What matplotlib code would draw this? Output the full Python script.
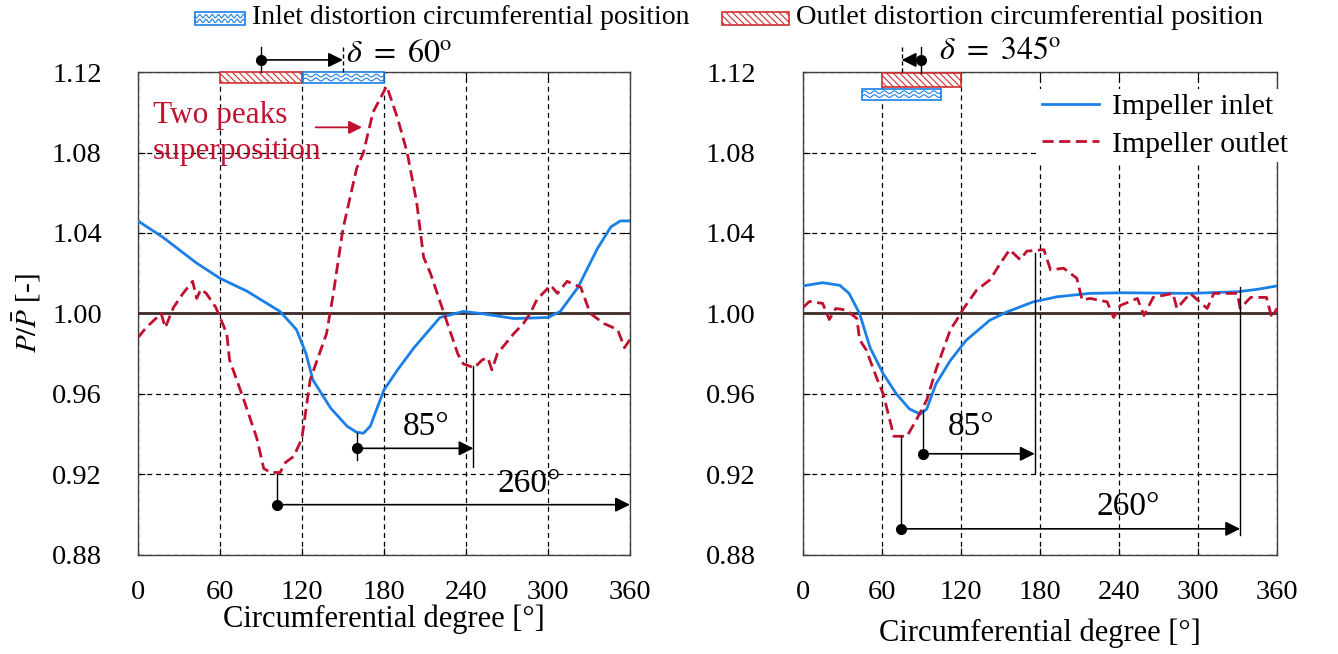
import numpy as np
import matplotlib
matplotlib.use('Agg')
import matplotlib.pyplot as plt
from matplotlib.patches import Rectangle

plt.rcParams['font.family'] = ['Liberation Serif', 'DejaVu Serif']
plt.rcParams['mathtext.fontset'] = 'stix'
plt.rcParams['hatch.linewidth'] = 0.8

# ==================== DATOS ====================
# panel izquierdo (delta = 60)
izq_inlet_x = [0, 18, 43, 60, 80, 104, 116, 123, 128, 141, 153, 160, 165, 170, 180, 190, 202,
               221, 238, 251, 275, 300, 309, 322, 336, 346, 353, 360]
izq_inlet_y = [1.046, 1.038, 1.025, 1.0175, 1.011, 1.001, 0.992, 0.980, 0.967, 0.953, 0.944,
               0.941, 0.9405, 0.944, 0.962, 0.972, 0.983, 0.998, 1.001, 1.000, 0.9975, 0.998,
               1.001, 1.013, 1.032, 1.043, 1.046, 1.046]
izq_outlet_x = [0, 6, 17, 20, 26, 33, 40, 43, 46, 50, 57, 65, 67, 77, 87, 92, 97, 104, 108,
                114, 120, 126, 138, 143, 150, 160, 165, 172, 182, 190, 197, 204, 209, 214,
                224, 234, 238, 246, 252, 256, 259, 263, 275, 282, 287, 292, 302, 307, 314,
                324, 331, 341, 351, 356, 360]
izq_outlet_y = [0.988, 0.993, 1.000, 0.993, 1.003, 1.010, 1.016, 1.0075, 1.012, 1.010, 1.003,
                0.990, 0.977, 0.958, 0.938, 0.923, 0.921, 0.921, 0.926, 0.929, 0.938, 0.967,
                0.990, 1.010, 1.042, 1.072, 1.080, 1.100, 1.113, 1.097, 1.080, 1.055, 1.028,
                1.020, 1.000, 0.980, 0.975, 0.973, 0.977, 0.978, 0.972, 0.980, 0.990, 0.995,
                1.000, 1.007, 1.014, 1.010, 1.016, 1.013, 1.000, 0.995, 0.992, 0.983, 0.987]

# panel derecho (delta = 345)
der_inlet_x = [0, 15, 28, 35, 43, 51, 61, 71, 81, 89, 94, 101, 112, 124, 142, 155, 175, 193,
               218, 243, 294, 330, 345, 360]
der_inlet_y = [1.0137, 1.0153, 1.014, 1.010, 1.000, 0.983, 0.970, 0.960, 0.9525, 0.950,
               0.9525, 0.965, 0.9767, 0.9867, 0.9967, 1.0008, 1.0058, 1.0083, 1.010, 1.0103,
               1.010, 1.0108, 1.012, 1.0137]
der_outlet_x = [0, 5, 15, 20, 25, 33, 41, 43, 48, 56, 61, 66, 69, 79, 86, 94, 101, 112, 117,
                122, 132, 142, 150, 157, 165, 170, 183, 188, 198, 208, 212, 218, 231, 236,
                241, 254, 259, 266, 281, 284, 294, 307, 312, 330, 332, 340, 352, 356, 360]
der_outlet_y = [1.003, 1.006, 1.005, 0.997, 1.0025, 1.0017, 0.9975, 0.987, 0.982, 0.968,
                0.960, 0.947, 0.939, 0.939, 0.947, 0.957, 0.972, 0.992, 0.997, 1.0025,
                1.0117, 1.0167, 1.025, 1.0317, 1.0267, 1.031, 1.0317, 1.0217, 1.0225,
                1.0175, 1.0067, 1.0075, 1.0058, 0.998, 1.004, 1.0075, 0.999, 1.008, 1.010,
                1.0025, 1.010, 1.0025, 1.010, 1.010, 1.0025, 1.008, 1.008, 0.998, 1.0025]

x_ticks = [0, 60, 120, 180, 240, 300, 360]
y_ticks = [0.88, 0.92, 0.96, 1.00, 1.04, 1.08, 1.12]

AZUL = '#1a7fe6'
ROJO = '#c0102e'
ROJO_BARRA = '#d03030'
MARRON = '#3e2c28'


# ==================== FUNCIONES ====================
def caja_ondulada(ax, x0, x1, y0, y1, tr=None):
    tr = tr or ax.transData
    ax.add_patch(Rectangle((x0, y0), x1 - x0, y1 - y0, fc='white', ec=AZUL, lw=1.2,
                           transform=tr, clip_on=False, zorder=6))
    t = np.linspace(x0, x1, 300)
    h = y1 - y0
    periodo = (x1 - x0) / 8.0
    for yc in [y0 + 0.32 * h, y0 + 0.68 * h]:
        ax.plot(t, yc + 0.13 * h * np.sin(2 * np.pi * (t - x0) / periodo), color=AZUL,
                lw=0.8, transform=tr, clip_on=False, zorder=7)


def caja_rayada(ax, x0, x1, y0, y1, tr=None):
    tr = tr or ax.transData
    ax.add_patch(Rectangle((x0, y0), x1 - x0, y1 - y0, fc='white', ec=ROJO_BARRA, lw=1.2,
                           hatch='\\\\\\\\\\', transform=tr, clip_on=False, zorder=6))


def flecha(ax, x0, x1, y):
    ax.annotate('', xy=(x1, y), xytext=(x0, y),
                arrowprops=dict(arrowstyle='-|>', color='black', lw=1.2, mutation_scale=22,
                                shrinkA=0, shrinkB=0), annotation_clip=False, zorder=8)
    ax.plot([x0], [y], 'o', color='black', ms=7, clip_on=False, zorder=9)


def vline(ax, x, y0, y1, **kw):
    ax.plot([x, x], [y0, y1], color='black', lw=1.0, clip_on=False, zorder=8, **kw)


def ajustar(ax, pad_y):
    ax.set_xlim(0, 360)
    ax.set_ylim(0.88, 1.12)
    ax.set_xticks(x_ticks)
    ax.set_yticks(y_ticks)
    ax.set_yticklabels(['%.2f' % v for v in y_ticks])
    ax.tick_params(direction='in', length=5, top=True, right=True, labelsize=20.5)
    ax.tick_params(axis='y', pad=pad_y)
    ax.tick_params(axis='x', pad=18)
    ax.grid(True, color='black', ls=(0, (4, 3)), lw=0.9)
    ax.axhline(1.0, color=MARRON, lw=2, zorder=3)
    for s in ax.spines.values():
        s.set_color('#404040')
        s.set_linewidth(1.0)


fig = plt.figure(figsize=(13.38, 6.54), dpi=100)

# ==================== PANEL IZQUIERDO ====================
ax1 = fig.add_axes([0.1031, 0.1514, 0.3677, 0.7385])
ajustar(ax1, 26)
ax1.plot(izq_inlet_x, izq_inlet_y, color=AZUL, lw=2, zorder=4)
ax1.plot(izq_outlet_x, izq_outlet_y, color=ROJO, lw=2, ls=(0, (4, 2)), zorder=5)
ax1.set_xlabel('Circumferential degree [°]', fontsize=22, labelpad=0)
ax1.set_ylabel(r'$P/\bar{P}$ [-]', fontsize=21, labelpad=6)

caja_rayada(ax1, 60, 120, 1.1145, 1.12)
caja_ondulada(ax1, 121, 180, 1.1145, 1.12)

# delta = 60
flecha(ax1, 90, 150, 1.126)
vline(ax1, 90, 1.1325, 1.12)
vline(ax1, 150, 1.1325, 1.12, ls=(0, (3, 2)))
ax1.text(152, 1.1285, r'$\delta\ =\ 60^{\mathrm{o}}$', fontsize=23, va='center', ha='left')

ax1.text(11, 1.0895, 'Two peaks\nsuperposition', color=ROJO, fontsize=22.5, va='center',
         ha='left', linespacing=1.3)
ax1.annotate('', xy=(164, 1.0925), xytext=(130, 1.0925),
             arrowprops=dict(arrowstyle='-|>', color=ROJO, lw=1.3, mutation_scale=20,
                             shrinkA=0, shrinkB=0))

# 85
vline(ax1, 160, 0.9408, 0.927)
flecha(ax1, 160, 245.5, 0.933)
vline(ax1, 245.5, 0.974, 0.9235)
ax1.text(211, 0.9435, '85°', fontsize=24, ha='center', va='center')

# 260
vline(ax1, 102, 0.920, 0.905)
flecha(ax1, 102, 360, 0.905)
ax1.text(286, 0.9155, '260°', fontsize=24, ha='center', va='center')

# ==================== PANEL DERECHO ====================
ax2 = fig.add_axes([0.6001, 0.1514, 0.3543, 0.7385])
ajustar(ax2, 34)
l1, = ax2.plot(der_inlet_x, der_inlet_y, color=AZUL, lw=2, zorder=4, label='Impeller inlet')
l2, = ax2.plot(der_outlet_x, der_outlet_y, color=ROJO, lw=2, ls=(0, (4, 2)), zorder=5,
               label='Impeller outlet')
ax2.set_xlabel('Circumferential degree [°]', fontsize=22, labelpad=10)

caja_rayada(ax2, 60, 120, 1.1125, 1.1195)
caja_ondulada(ax2, 45, 105, 1.1063, 1.1117)

# delta = 345
flecha(ax2, 90, 75, 1.126)
vline(ax2, 90, 1.1325, 1.1195)
vline(ax2, 75, 1.1325, 1.1195, ls=(0, (3, 2)))
ax2.text(103, 1.130, r'$\delta\ =\ 345^{\mathrm{o}}$', fontsize=23, va='center', ha='left')

# 85
vline(ax2, 91.3, 0.952, 0.9303)
flecha(ax2, 91.3, 176, 0.9303)
vline(ax2, 176, 1.030, 0.9208)
ax2.text(128, 0.9435, '85°', fontsize=24, ha='center', va='center')

# 260
vline(ax2, 74.3, 0.939, 0.893)
flecha(ax2, 74.3, 332, 0.893)
vline(ax2, 332, 1.0133, 0.890)
ax2.text(247, 0.9038, '260°', fontsize=24, ha='center', va='center')

leg = ax2.legend(handles=[l1, l2], loc='upper left', bbox_to_anchor=(0.495, 0.965),
                 fontsize=21.5, frameon=True, fancybox=False, edgecolor='none',
                 framealpha=1, handlelength=1.9, handletextpad=0.45, borderaxespad=0,
                 borderpad=0.15, labelspacing=0.35)
leg.set_zorder(10)

# ==================== LEYENDA SUPERIOR ====================
ax_top = fig.add_axes([0, 0, 1, 1])
ax_top.set_xlim(0, 1338)
ax_top.set_ylim(654, 0)
ax_top.axis('off')
caja_ondulada(ax_top, 195, 245, 12, 25)
ax_top.text(252, 18, 'Inlet distortion circumferential position', fontsize=20,
            va='center', ha='left')
caja_rayada(ax_top, 722, 789, 12, 25)
ax_top.text(796, 18, 'Outlet distortion circumferential position', fontsize=20.5,
            va='center', ha='left')

plt.savefig('out.png', dpi=100)
